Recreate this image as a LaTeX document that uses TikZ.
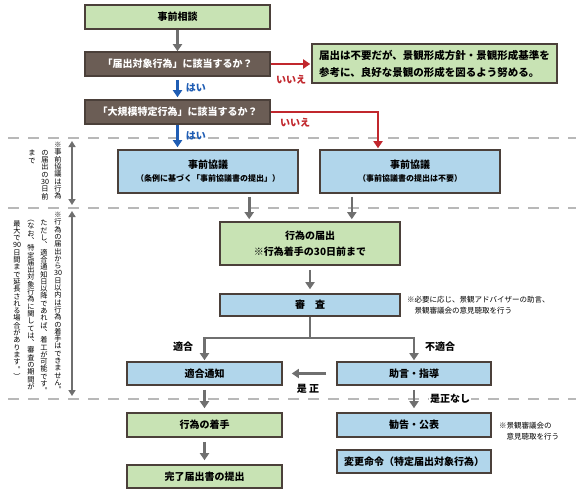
\documentclass[tikz,border=0pt]{standalone}
\usepackage{fontspec}
\setmainfont{Noto Sans CJK JP}
\usepackage{tikz}
\usetikzlibrary{arrows.meta,calc,positioning}

\definecolor{boxline}{HTML}{4B403A}
\definecolor{boxgreen}{HTML}{C8E3B4}
\definecolor{boxblue}{HTML}{B1D6EB}
\definecolor{boxbrown}{HTML}{6B5D55}
\definecolor{flowgray}{HTML}{6F6F6F}
\definecolor{nored}{HTML}{C1272D}
\definecolor{yesblue}{HTML}{1F5DB4}
\definecolor{dashgray}{HTML}{B8B8B8}

\makeatletter
\newcommand\tatecol[1]{\vbox{\baselineskip=7.3pt\lineskip=0pt\lineskiplimit=-\maxdimen
  \@tfor\tate@c:=#1\do{\hbox to 7pt{\hss\tate@c\hss}}}}
\makeatother

\tikzset{
  box/.style={draw=boxline, line width=1.6pt, inner sep=0pt, align=center,
    font=\fontsize{10}{12}\selectfont\bfseries},
  greenbox/.style={box, fill=boxgreen},
  bluebox/.style={box, fill=boxblue},
  askbox/.style={box, fill=boxbrown, text=white},
  flow/.style={draw=flowgray, line width=2.6pt, -{Triangle[length=7pt,width=9pt]}},
  yesflow/.style={flow, draw=yesblue},
  noflow/.style={flow, draw=nored},
  span/.style={draw=flowgray, line width=1.6pt, {Triangle[length=6pt,width=7pt]}-{Triangle[length=6pt,width=7pt]}},
  divider/.style={draw=dashgray, line width=1.2pt, dash pattern=on 11pt off 9pt},
  lab/.style={font=\fontsize{10}{12}\selectfont\bfseries, inner sep=1pt},
  note/.style={font=\fontsize{7.5}{10.5}\selectfont, align=left, inner sep=0pt, anchor=west},
  tate/.style={font=\fontsize{7.2}{7.3}\selectfont, inner sep=0pt, anchor=north}
}

\begin{document}
\begin{tikzpicture}[x=1pt,y=-1pt]
\useasboundingbox (0,0) rectangle (580,496);
\fill[white] (0,0) rectangle (580,496);

% dividers
\draw[divider] (8,138) -- (576,138);
\draw[divider] (8,208) -- (576,208);
\draw[divider] (8,399) -- (576,399);

% boxes
\node[greenbox, minimum width=185pt, minimum height=24pt] (consult) at (177.5,17) {事前相談};
\node[askbox, minimum width=185pt, minimum height=24pt] (ask1) at (177.5,64) {「届出対象行為」に該当するか？};
\node[askbox, minimum width=185pt, minimum height=24pt] (ask2) at (177.5,112) {「大規模特定行為」に該当するか？};
\node[greenbox, minimum width=245pt, minimum height=39pt, align=left,
  font=\fontsize{10.5}{17}\selectfont\bfseries] (noneed) at (434.5,63.5)
  {届出は不要だが、景観形成方針・景観形成基準を\\参考に、良好な景観の形成を図るよう努める。};
\node[bluebox, minimum width=180pt, minimum height=43pt] (preL) at (208,171.5)
  {事前協議\\[1pt]{\fontsize{8}{10}\selectfont （条例に基づく「事前協議書の提出」）}};
\node[bluebox, minimum width=180pt, minimum height=43pt] (preR) at (410,171.5)
  {事前協議\\[1pt]{\fontsize{8}{10}\selectfont （事前協議書の提出は不要）}};
\node[greenbox, minimum width=180pt, minimum height=43pt, font=\fontsize{10}{16}\selectfont\bfseries] (report) at (310,243.5)
  {行為の届出\\※行為着手の30日前まで};
\node[bluebox, minimum width=180pt, minimum height=22pt] (exam) at (310,305) {審　査};
\node[bluebox, minimum width=155pt, minimum height=23pt] (conform) at (204.5,373.5) {適合通知};
\node[bluebox, minimum width=154pt, minimum height=23pt] (advice) at (414,373.5) {助言・指導};
\node[greenbox, minimum width=155pt, minimum height=24pt] (start) at (204.5,425) {行為の着手};
\node[greenbox, minimum width=155pt, minimum height=23pt] (done) at (204.5,476.5) {完了届出書の提出};
\node[bluebox, minimum width=154pt, minimum height=24pt] (recommend) at (414,425) {勧告・公表};
\node[bluebox, minimum width=154pt, minimum height=23pt] (order) at (414,461.5) {変更命令（特定届出対象行為）};

% notes
\node[note] (examnote) at (407,305) {※必要に応じ、景観アドバイザーの助言、\\　景観審議会の意見聴取を行う};
\node[note] (recnote) at (499,431) {※景観審議会の\\　意見聴取を行う};

% flows
\draw[flow] (consult.south) -- (ask1.north);
\draw[yesflow, shorten <=3pt, shorten >=2pt] (ask1.south) -- node[lab, right=6pt, text=yesblue] (yes1) {はい} (ask2.north);
\draw[yesflow, shorten >=2pt] (ask2.south) -- node[lab, right=6pt, text=yesblue, pos=0.45] (yes2) {はい} (preL.north -| ask2.south);
\draw[noflow, shorten >=1pt] (ask1.east) -- (ask1.east -| noneed.west);
\node[lab, text=nored] (no1) at (291,80) {いいえ};
\coordinate (redturn) at (378,112);
\draw[noflow, shorten >=1pt] (ask2.east) -- (redturn) -- (redturn |- preR.north);
\node[lab, text=nored] (no2) at (295,123) {いいえ};
\draw[flow, shorten <=3pt, shorten >=2pt] (preL.south -| report.west) ++(30,0) coordinate (pl) -- (pl |- report.north);
\draw[flow, shorten <=3pt, shorten >=2pt] (preR.south -| report.east) ++(-49,0) coordinate (pr) -- (pr |- report.north);
\draw[flow, shorten <=4pt, shorten >=4pt] (report.south) -- (exam.north);
\draw[draw=flowgray, line width=2.6pt] (exam.south) -- ++(0,21) coordinate (split);
\draw[flow, shorten >=1pt] (split) -| (conform.north);
\draw[flow, shorten >=1pt] (split) -| (advice.north);
\node[lab] (okl) at (183,347) {適合};
\node[lab] (ngl) at (440,347) {不適合};
\draw[flow] ([xshift=-10pt]advice.west) -- ([xshift=9pt]conform.east);
\node[lab] (fix) at (308,389) {是 正};
\draw[flow, shorten <=4pt, shorten >=4pt] (conform.south) -- (start.north);
\draw[flow, shorten <=4pt, shorten >=4pt] (start.south) -- (done.north);
\draw[flow, shorten <=4pt, shorten >=4pt] (advice.south) -- (recommend.north);
\node[lab, fill=white] (nofix) at (450,399) {是正なし};

% side spans
\draw[span] (72,141) -- (72,205);
\draw[span] (72,211) -- (72,396);
\node[tate] (t1) at (58,142) {\tatecol{※事前協議は行為}};
\node[tate] (t2) at (45,150) {\tatecol{の届出の{30}日前}};
\node[tate] (t3) at (32,150) {\tatecol{まで}};
\node[tate] (b1) at (58,212) {\tatecol{※行為の届出から{30}日以内は行為の着手はできません︒}};
\node[tate] (b2) at (44,220) {\tatecol{ただし︑適合通知日以降であれば︑着工が可能です︒}};
\node[tate] (b3) at (31,220) {\tatecol{︵なお︑特定届出対象行為に関しては︑審査の期間が}};
\node[tate] (b4) at (17,220) {\tatecol{最大で{90}日間まで延長される場合があります︒︶}};
\end{tikzpicture}
\end{document}
